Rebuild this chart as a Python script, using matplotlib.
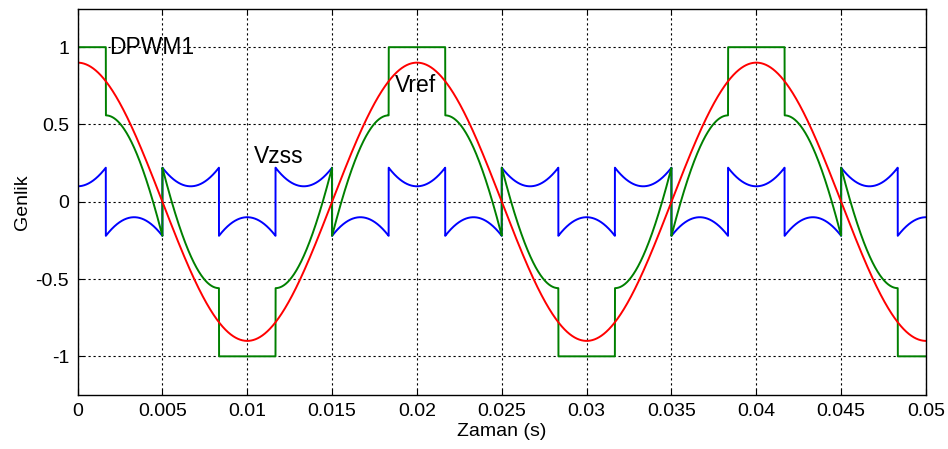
import matplotlib.pyplot as plt
import numpy as np

plt.rcParams['font.family'] = ['Liberation Sans', 'DejaVu Sans']

# signal parameters
m_index = 0.9          # Vref peak
f_ref = 50.0           # Hz (period 0.02 s)
t_end = 0.05
n_samples = 20001

x_ticks = [0, 0.005, 0.01, 0.015, 0.02, 0.025, 0.03, 0.035, 0.04, 0.045, 0.05]
x_tick_labels = ['0', '0.005', '0.01', '0.015', '0.02', '0.025', '0.03',
                 '0.035', '0.04', '0.045', '0.05']
y_ticks = [-1, -0.5, 0, 0.5, 1]
y_tick_labels = ['-1', '-0.5', '0', '0.5', '1']

labels = ['DPWM1', 'Vref', 'Vzss']
label_x = [0.00185, 0.0187, 0.0104]
label_y = [1.0, 0.75, 0.29]

# three phase references and DPWM1 zero sequence signal
t = np.linspace(0, t_end, n_samples)
w = 2 * np.pi * f_ref * t
va = m_index * np.cos(w)
vb = m_index * np.cos(w - 2 * np.pi / 3)
vc = m_index * np.cos(w + 2 * np.pi / 3)
phases = np.vstack([va, vb, vc])
idx = np.argmax(np.abs(phases), axis=0)
vmax = phases[idx, np.arange(n_samples)]
vzss = np.sign(vmax) - vmax
dpwm1 = va + vzss

fig = plt.figure(figsize=(9.48, 4.49), dpi=100)
ax = fig.add_axes([0.0818, 0.1203, 0.8950, 0.8607])

lw = 1.4
ax.plot(t, vzss, color='b', lw=lw)
ax.plot(t, dpwm1, color=(0, 0.5, 0), lw=lw)
ax.plot(t, va, color='r', lw=lw)

ax.set_xlim(0, t_end)
ax.set_ylim(-1.25, 1.25)
ax.set_xticks(x_ticks, x_tick_labels)
ax.set_yticks(y_ticks, y_tick_labels)
ax.tick_params(direction='in', length=4, labelsize=14, pad=6,
               top=True, right=True)
ax.grid(True, color='black', linestyle=(0, (2, 2.5)), linewidth=0.8)
ax.set_axisbelow(True)
for spine in ax.spines.values():
    spine.set_linewidth(1.0)

ax.set_xlabel('Zaman (s)', fontsize=14, labelpad=2)
ax.set_ylabel('Genlik', fontsize=14, labelpad=3)

for lab, lx, ly in zip(labels, label_x, label_y):
    ax.text(lx, ly, lab, fontsize=16.5, ha='left', va='center')

fig.savefig('out.png', dpi=100)
